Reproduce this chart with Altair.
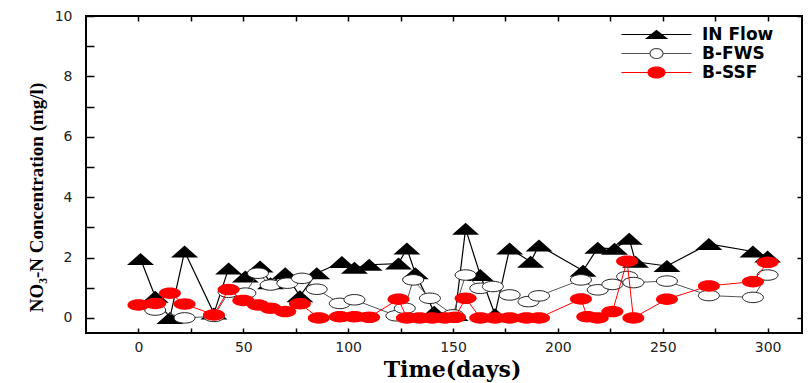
import altair as alt
import pandas as pd
import numpy as np

series_names = ["IN Flow", "B-FWS", "B-SSF"]

in_days = [1, 8, 15, 22, 36, 43, 51, 58, 63, 70, 77, 85, 97, 103, 110, 124, 128, 132, 141, 151,
           156, 163, 170, 177, 187, 191, 212, 219, 227, 234, 237, 252, 272, 293, 300]
in_vals = [1.95, 0.7, 0.0, 2.2, 0.15, 1.64, 1.37, 1.7, 1.15, 1.48, 0.72, 1.48, 1.85, 1.66, 1.76, 1.8, 2.3, 1.48, 0.2, 0.1,
           2.95, 1.42, 0.12, 2.3, 1.86, 2.4, 1.56, 2.32, 2.29, 2.62, 1.86, 1.72, 2.45, 2.2, 2.03]

fws_days = [8, 22, 36, 43, 51, 57, 63, 71, 78, 85, 96, 103, 123, 127, 131, 139, 150, 156, 163, 169,
            177, 186, 191, 211, 219, 226, 233, 236, 252, 272, 293, 300]
fws_vals = [0.26, 0.0, 0.05, 0.85, 0.82, 1.48, 1.09, 1.15, 1.31, 0.95, 0.48, 0.6, 0.07, 0.32, 1.26, 0.65, 0.1, 1.42, 0.98, 1.04,
            0.76, 0.54, 0.73, 1.26, 0.93, 1.11, 1.37, 1.17, 1.22, 0.74, 0.68, 1.42]

ssf_days = [0, 8, 15, 22, 36, 43, 50, 57, 63, 70, 77, 86, 96, 103, 110, 124, 128, 134, 140, 146,
            151, 156, 163, 170, 177, 185, 191, 211, 214, 219, 226, 233, 236, 252, 272, 293, 300]
ssf_vals = [0.43, 0.48, 0.82, 0.46, 0.1, 0.94, 0.58, 0.43, 0.32, 0.21, 0.47, 0.0, 0.04, 0.04, 0.02, 0.62, 0.0, 0.0, 0.0, 0.0,
            0.02, 0.65, 0.0, 0.0, 0.0, 0.0, 0.0, 0.63, 0.04, 0.0, 0.21, 1.88, 0.0, 0.62, 1.06, 1.2, 1.84]

x_ticks = list(range(0, 301, 25))
y_ticks = list(range(0, 11, 1))


def ellipse_path(rx, ry, n=28):
    pts = []
    for k in range(n):
        t = 2 * np.pi * k / n
        pts.append(f"{rx * np.cos(t):.3f},{ry * np.sin(t):.3f}")
    return "M" + " L".join(pts) + " Z"


tri_path = "M-2.7,1.2 L0,-1.2 L2.7,1.2 Z"
fws_path = ellipse_path(2.1, 1.05)
ssf_path = ellipse_path(2.2, 1.15)

leg_paths = [
    "M-7,0 L7,0 M-2,0.8 L0,-0.8 L2,0.8 Z",
    "M-7,0 L-1.3,0 M1.3,0 L7,0 " + ellipse_path(1.3, 1.0),
    "M-7,0 L7,0 " + ellipse_path(1.7, 1.1),
]

xscale = alt.Scale(domain=[-25, 316.4], nice=False, zero=False)
yscale = alt.Scale(domain=[-0.5, 10], nice=False, zero=False)

df_in = pd.DataFrame({"day": in_days, "val": in_vals})
df_fws = pd.DataFrame({"day": fws_days, "val": fws_vals})
df_ssf = pd.DataFrame({"day": ssf_days, "val": ssf_vals})

ax_bottom = alt.Axis(
    orient="bottom", values=x_ticks,
    labelExpr="datum.value % 50 == 0 ? datum.label : ''",
    tickSize=alt.ExprRef("-5"), labelPadding=12,
    title="Time(days)", titleFont="DejaVu Serif", titleFontSize=22, titleFontWeight="bold",
    titleBaseline="middle", titleY=36, titleX=366,
)
ax_left = alt.Axis(
    orient="left", values=y_ticks,
    labelExpr="datum.value % 2 == 0 ? datum.label : ''",
    tickSize=alt.ExprRef("-8"), labelPadding=22,
    title="NO₃-N Concentration (mg/l)", titleFont="Liberation Serif", titleFontSize=19,
    titleFontWeight="bold", titleBaseline="middle", titleAlign="center", titleX=-50, titleY=181,
)
ax_top = alt.Axis(orient="top", values=x_ticks, labels=False, title=None, tickSize=alt.ExprRef("-5"))
ax_right = alt.Axis(orient="right", values=[0, 2, 4, 6, 8, 10], labels=False, title=None,
                    tickSize=alt.ExprRef("-5"))


def enc(xaxis=None, yaxis=None):
    return dict(
        x=alt.X("day:Q", scale=xscale, axis=xaxis),
        y=alt.Y("val:Q", scale=yscale, axis=yaxis),
    )


in_line = alt.Chart(df_in).mark_line(color="black", strokeWidth=1.2).encode(**enc(ax_bottom, ax_left))
in_pts = alt.Chart(df_in).mark_point(shape=tri_path, size=100, filled=True, fill="black",
                                     strokeWidth=0, opacity=1).encode(**enc(ax_top, ax_right))
fws_line = alt.Chart(df_fws).mark_line(color="#555555", strokeWidth=1).encode(**enc())
fws_pts = alt.Chart(df_fws).mark_point(shape=fws_path, size=100, filled=True, fill="white",
                                       stroke="#222222", strokeWidth=1, opacity=1).encode(**enc())
ssf_line = alt.Chart(df_ssf).mark_line(color="red", strokeWidth=1).encode(**enc())
ssf_pts = alt.Chart(df_ssf).mark_point(shape=ssf_path, size=100, filled=True, fill="red",
                                       strokeWidth=0, opacity=1).encode(**enc())

leg_df = pd.DataFrame({"series": series_names, "day": [0, 0, 0], "val": [0, 0, 0]})
leg = alt.Legend(title=None, orient="none", legendX=562, legendY=10)
legend_layer = alt.Chart(leg_df).transform_filter("false").mark_point(
    size=100, strokeWidth=1.2, opacity=1
).encode(
    x=alt.X("day:Q", scale=xscale, axis=None),
    y=alt.Y("val:Q", scale=yscale, axis=None),
    shape=alt.Shape("series:N", scale=alt.Scale(domain=series_names, range=leg_paths), legend=leg),
    fill=alt.Fill("series:N", scale=alt.Scale(domain=series_names, range=["black", "white", "red"]), legend=leg),
    stroke=alt.Stroke("series:N", scale=alt.Scale(domain=series_names, range=["black", "#555555", "red"]), legend=leg),
)

chart = alt.layer(
    in_line, in_pts, fws_line, fws_pts, ssf_line, ssf_pts, legend_layer
).resolve_axis(
    x="independent", y="independent"
).properties(
    width=716, height=317,
    padding={"left": 78, "top": 8, "right": 1, "bottom": 54},
    autosize=alt.AutoSizeParams(type="none"),
).configure_view(
    stroke="black", strokeWidth=2
).configure_axis(
    domain=False, grid=False, tickColor="black", tickWidth=1.5,
    labelFont="DejaVu Sans", labelFontSize=14, labelColor="#222222", titleColor="black",
).configure_legend(
    labelFont="DejaVu Sans", labelFontSize=17, labelFontWeight="bold", labelColor="black",
    labelOffset=37, symbolSize=100, symbolStrokeWidth=1.2, rowPadding=1, padding=0,
)

chart.save("out.html", embed_options={"renderer": "svg", "actions": False})
